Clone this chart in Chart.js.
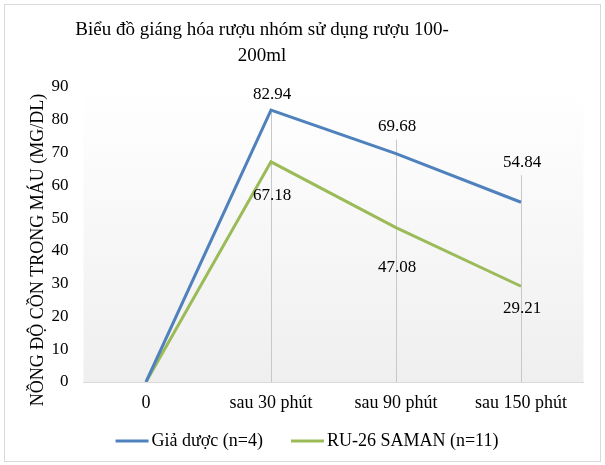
<!DOCTYPE html>
<html lang="vi">
<head>
<meta charset="UTF-8">
<title>Biểu đồ giáng hóa rượu</title>
<script src="https://cdn.jsdelivr.net/npm/chart.js@4"></script>
<style>
  html, body { margin: 0; padding: 0; background: #fff; }
  canvas { display: block; }
</style>
</head>
<body>
<canvas id="chart" width="605" height="465"></canvas>
<script>
// ---------------------------------------------------------------------------
// Data
// ---------------------------------------------------------------------------
const categories = ['0', 'sau 30 phút', 'sau 90 phút', 'sau 150 phút'];
const giaDuoc    = [0, 82.94, 69.68, 54.84];
const ru26       = [0, 67.18, 47.08, 29.21];
const seriesNames = ['Giả dược (n=4)', 'RU-26 SAMAN (n=11)'];
const yMin = 0, yMax = 90, yStep = 10;

const titleLines = ['Biểu đồ giáng hóa rượu nhóm sử dụng rượu 100-', '200ml'];
const yTitle = 'NỒNG ĐỘ CỒN TRONG MÁU (MG/DL)';

// ---------------------------------------------------------------------------
// Style
// ---------------------------------------------------------------------------
const SERIF = '"Liberation Serif", "Times New Roman", serif';
const BLUE = '#4F81BD';
const GREEN = '#9BBB59';
const GUIDE = '#c8c8c8';

// vertical label offsets (px) from each point, per series; null = no label
const labelOffsets = [
  [null, -16, -27, -40],
  [null, 34, 40, 22],
];

const deco = {
  id: 'deco',
  beforeDraw(chart) {
    const { ctx, chartArea: a } = chart;
    ctx.save();
    ctx.fillStyle = '#fff';
    ctx.fillRect(0, 0, chart.width, chart.height);
    ctx.strokeStyle = '#d9d9d9';
    ctx.lineWidth = 1;
    ctx.strokeRect(4.5, 4.5, 596, 457);
    const g = ctx.createLinearGradient(0, a.top, 0, a.bottom);
    g.addColorStop(0, '#ffffff');
    g.addColorStop(1, '#efefef');
    ctx.fillStyle = g;
    ctx.fillRect(a.left, a.top, a.right - a.left, a.bottom - a.top);
    ctx.restore();
  },
  beforeDatasetsDraw(chart) {
    const { ctx, chartArea: a } = chart;
    const metas = chart.data.datasets.map((_, i) => chart.getDatasetMeta(i));
    ctx.save();
    ctx.strokeStyle = GUIDE;
    ctx.lineWidth = 1;
    // drop lines from highest point to the axis
    for (let i = 1; i < categories.length; i++) {
      const x = Math.round(metas[0].data[i].x) + 0.5;
      const top = Math.min(...metas.map(m => m.data[i].y));
      ctx.beginPath();
      ctx.moveTo(x, a.bottom);
      ctx.lineTo(x, top);
      ctx.stroke();
    }
    // leader lines from labels to points
    metas.forEach((m, s) => {
      m.data.forEach((pt, i) => {
        const off = labelOffsets[s][i];
        if (off === null || Math.abs(off) < 20) return;
        const x = Math.round(pt.x) + 0.5;
        ctx.beginPath();
        ctx.moveTo(x, pt.y);
        ctx.lineTo(x, pt.y + off - Math.sign(off) * 13);
        ctx.stroke();
      });
    });
    ctx.restore();
  },
  afterDraw(chart) {
    const { ctx } = chart;
    ctx.save();
    ctx.fillStyle = '#000';
    // title
    ctx.font = '19px ' + SERIF;
    ctx.textAlign = 'center';
    ctx.textBaseline = 'middle';
    ctx.fillText(titleLines[0], 262, 30);
    ctx.fillText(titleLines[1], 262, 56);
    // y axis title
    ctx.save();
    ctx.translate(38, 250);
    ctx.rotate(-Math.PI / 2);
    ctx.font = '18px ' + SERIF;
    ctx.fillText(yTitle, 0, 0);
    ctx.restore();
    // data labels
    ctx.font = '17px ' + SERIF;
    chart.data.datasets.forEach((ds, s) => {
      chart.getDatasetMeta(s).data.forEach((pt, i) => {
        const off = labelOffsets[s][i];
        if (off === null) return;
        ctx.fillText(ds.data[i].toFixed(2), pt.x + 1, pt.y + off);
      });
    });
    // legend
    ctx.font = '18px ' + SERIF;
    const colors = [BLUE, GREEN];
    const lineW = 33, gapText = 3, gapItem = 28;
    const widths = seriesNames.map(n => ctx.measureText(n).width);
    const total = widths.reduce((t, w) => t + lineW + gapText + w, 0) + gapItem;
    let x = 307 - total / 2;
    const y = 441;
    ctx.textAlign = 'left';
    seriesNames.forEach((n, i) => {
      ctx.strokeStyle = colors[i];
      ctx.lineWidth = 3;
      ctx.beginPath();
      ctx.moveTo(x, y);
      ctx.lineTo(x + lineW, y);
      ctx.stroke();
      ctx.fillText(n, x + lineW + gapText, y);
      x += lineW + gapText + widths[i] + gapItem;
    });
    ctx.restore();
  }
};

new Chart(document.getElementById('chart'), {
  type: 'line',
  data: {
    labels: categories,
    datasets: [
      { label: seriesNames[0], data: giaDuoc, borderColor: BLUE, backgroundColor: BLUE,
        borderWidth: 3, pointRadius: 0, tension: 0 },
      { label: seriesNames[1], data: ru26, borderColor: GREEN, backgroundColor: GREEN,
        borderWidth: 3, pointRadius: 0, tension: 0 },
    ]
  },
  options: {
    responsive: false,
    animation: false,
    devicePixelRatio: 1,
    layout: { padding: { left: 0, top: 87, right: 21.5, bottom: 0 } },
    plugins: {
      legend: { display: false },
      title: { display: false },
      tooltip: { enabled: false }
    },
    scales: {
      x: {
        offset: true,
        grid: { display: false, drawTicks: false },
        border: { display: true, color: '#d9d9d9', width: 1 },
        ticks: { color: '#000', font: { family: SERIF, size: 18 }, padding: 10, maxRotation: 0 },
        afterFit: s => { s.height = 83; }
      },
      y: {
        min: yMin, max: yMax,
        grid: { display: false, drawTicks: false },
        border: { display: false },
        ticks: { stepSize: yStep, color: '#000', font: { family: SERIF, size: 17 }, padding: 15 },
        afterFit: s => { s.width = 83.5; }
      }
    }
  },
  plugins: [deco]
});
</script>
</body>
</html>
